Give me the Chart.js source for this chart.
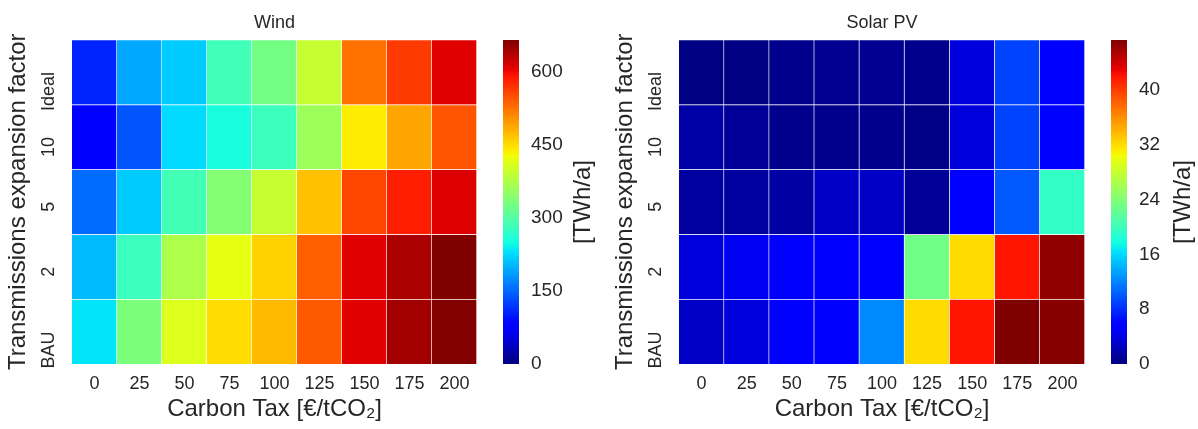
<!DOCTYPE html>
<html>
<head>
<meta charset="utf-8">
<script src="https://cdn.jsdelivr.net/npm/chart.js@4.4.1/dist/chart.umd.min.js"></script>
<style>
  body { margin: 0; background: #fff; }
  #wrap { position: relative; width: 1198px; height: 429px; }
  canvas { position: absolute; top: 0; }
</style>
</head>
<body>
<div id="wrap">
  <canvas id="wind" width="490" height="429" style="left:0px"></canvas>
  <canvas id="windBar" width="110" height="429" style="left:490px"></canvas>
  <canvas id="solar" width="491" height="429" style="left:607px"></canvas>
  <canvas id="solarBar" width="100" height="429" style="left:1098px"></canvas>
</div>
<script>
const taxLabels = ['0', '25', '50', '75', '100', '125', '150', '175', '200']
const rowLabels = ['Ideal', '10', '5', '2', 'BAU']

// Wind [TWh/a], rows top to bottom
const windIdeal = [107, 193, 216, 285, 326, 393, 526, 565, 610]
const wind10 = [78, 139, 226, 253, 280, 360, 439, 490, 546]
const wind5 = [153, 216, 286, 340, 393, 470, 557, 584, 613]
const wind2 = [206, 280, 373, 420, 458, 539, 610, 641, 666]
const windBAU = [233, 333, 411, 450, 475, 543, 610, 646, 664]
const windMax = 666
const windTicks = [0, 150, 300, 450, 600]

// Solar PV [TWh/a]
const solarIdeal = [0.1, 0.1, 0.5, 0.7, 0.7, 0.5, 3.8, 9.0, 5.4]
const solar10 = [1.6, 1.0, 0.5, 0.5, 0.5, 0.3, 3.8, 9.0, 5.4]
const solar5 = [1.3, 1.3, 1.5, 2.9, 2.9, 1.0, 5.4, 10.0, 19.4]
const solar2 = [3.8, 4.8, 5.4, 5.4, 5.4, 23, 32, 42, 46.6]
const solarBAU = [2.9, 3.8, 5.4, 5.4, 12.3, 32, 42, 47.3, 47.0]
const solarMax = 47.3
const solarTicks = [0, 8, 16, 24, 32, 40]

const textColor = '#262626'
const fontFamily = "'Liberation Sans', Arial, sans-serif"

// matplotlib jet
const jetR = [[0, 0], [0.35, 0], [0.66, 1], [0.89, 1], [1, 0.5]]
const jetG = [[0, 0], [0.125, 0], [0.375, 1], [0.64, 1], [0.91, 0], [1, 0]]
const jetB = [[0, 0.5], [0.11, 1], [0.34, 1], [0.65, 0], [1, 0]]

function interp(pts, t) {
    for (let i = 1; i < pts.length; i++) {
        if (t <= pts[i][0]) {
            let a = pts[i - 1], b = pts[i]
            return a[1] + (b[1] - a[1]) * (t - a[0]) / (b[0] - a[0])
        }
    }
    return pts[pts.length - 1][1]
}

function jet(t) {
    t = Math.max(0, Math.min(1, t))
    let r = Math.round(interp(jetR, t) * 255)
    let g = Math.round(interp(jetG, t) * 255)
    let b = Math.round(interp(jetB, t) * 255)
    return `rgb(${r}, ${g}, ${b})`
}

function heatmap(id, title, rows, vmax, padRight) {
    const datasets = rows.map((values, i) => ({
        data: values.map(() => [4 - i, 5 - i]),
        backgroundColor: values.map(v => jet(v / vmax)),
        borderColor: 'rgba(255, 255, 255, 0.45)',
        borderWidth: {top: 1, right: 1, bottom: 0, left: 0},
        borderSkipped: false,
        grouped: false,
        barPercentage: 1,
        categoryPercentage: 1
    }))

    const config = {
        type: 'bar',
        data: {labels: taxLabels, datasets: datasets},
        options: {
            responsive: false,
            animation: false,
            layout: {padding: {left: 0, right: padRight, top: 0, bottom: 0}},
            plugins: {
                legend: {display: false},
                tooltip: {enabled: false},
                title: {
                    display: true,
                    text: title,
                    fullSize: false,
                    color: textColor,
                    font: {family: fontFamily, size: 18, weight: 'normal'},
                    padding: {top: 12, bottom: 6}
                }
            },
            scales: {
                x: {
                    grid: {display: false, drawTicks: false},
                    border: {display: false},
                    ticks: {color: textColor, font: {family: fontFamily, size: 18}, padding: 9, maxRotation: 0},
                    title: {
                        display: true,
                        text: 'Carbon Tax [€/tCO₂]',
                        color: textColor,
                        font: {family: fontFamily, size: 24},
                        padding: {top: 0, bottom: 5}
                    },
                    afterFit: s => { s.height = 65 }
                },
                y: {
                    min: 0,
                    max: 5,
                    grid: {display: false, drawTicks: false},
                    border: {display: false},
                    afterBuildTicks: s => { s.ticks = rowLabels.map((l, i) => ({value: 4.5 - i})) },
                    ticks: {
                        color: textColor,
                        font: {family: fontFamily, size: 18},
                        padding: 23,
                        minRotation: 90,
                        maxRotation: 90,
                        callback: v => rowLabels[Math.round(4.5 - v)]
                    },
                    title: {
                        display: true,
                        text: 'Transmissions expansion factor',
                        color: textColor,
                        font: {family: fontFamily, size: 24},
                        padding: {top: 4, bottom: 0}
                    },
                    afterFit: s => { s.width = 72 }
                }
            }
        }
    }

    new Chart(document.getElementById(id).getContext('2d'), config)
}

const cbTitle = {
    id: 'cbTitle',
    afterDraw(chart, args, opts) {
        const ctx = chart.ctx
        const a = chart.chartArea
        ctx.save()
        ctx.translate(opts.x, (a.top + a.bottom) / 2)
        ctx.rotate(-Math.PI / 2)
        ctx.fillStyle = textColor
        ctx.font = `24px ${fontFamily}`
        ctx.textAlign = 'center'
        ctx.textBaseline = 'middle'
        ctx.fillText(opts.text, 0, 0)
        ctx.restore()
    }
}

function colorbar(id, vmax, tickValues, width, titleX) {
    const config = {
        type: 'bar',
        data: {
            labels: [''],
            datasets: [{
                data: [[0, vmax]],
                barPercentage: 1,
                categoryPercentage: 1,
                backgroundColor: c => {
                    const a = c.chart.chartArea
                    if (!a) return 'rgba(0,0,0,0)'
                    const g = c.chart.ctx.createLinearGradient(0, a.bottom, 0, a.top)
                    for (let i = 0; i <= 100; i++)
                        g.addColorStop(i / 100, jet(i / 100))
                    return g
                }
            }]
        },
        options: {
            responsive: false,
            animation: false,
            layout: {padding: {left: 13, right: 0, top: 40, bottom: 65}},
            plugins: {
                legend: {display: false},
                tooltip: {enabled: false},
                cbTitle: {text: '[TWh/a]', x: titleX}
            },
            scales: {
                x: {display: false},
                y: {
                    position: 'right',
                    min: 0,
                    max: vmax,
                    grid: {display: false, drawTicks: false},
                    border: {display: false},
                    afterBuildTicks: s => { s.ticks = tickValues.map(v => ({value: v})) },
                    ticks: {color: textColor, font: {family: fontFamily, size: 19}, padding: 12},
                    afterFit: s => { s.width = width - 13 - 16 }
                }
            }
        },
        plugins: [cbTitle]
    }

    new Chart(document.getElementById(id).getContext('2d'), config)
}

heatmap('wind', 'Wind', [windIdeal, wind10, wind5, wind2, windBAU], windMax, 13)
colorbar('windBar', windMax, windTicks, 110, 93)
heatmap('solar', 'Solar PV', [solarIdeal, solar10, solar5, solar2, solarBAU], solarMax, 13)
colorbar('solarBar', solarMax, solarTicks, 100, 85)
</script>
</body>
</html>
